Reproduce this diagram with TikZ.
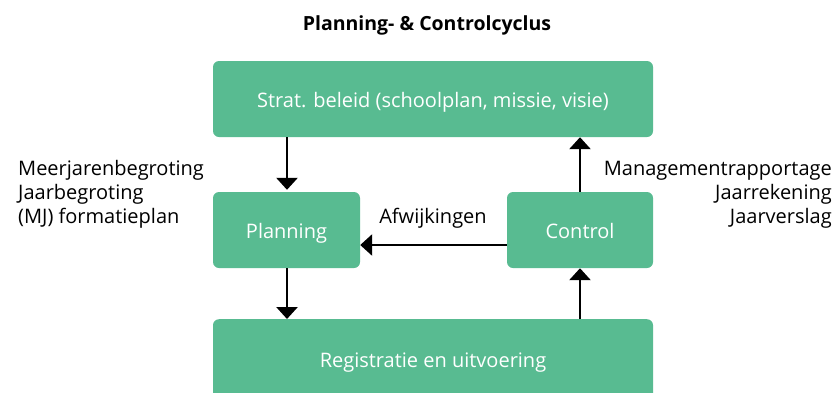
\documentclass[tikz,border=0pt]{standalone}
\usepackage{fontspec}
\setmainfont{Open Sans}
\usetikzlibrary{arrows.meta}
\definecolor{boxgreen}{HTML}{58BB91}
\tikzset{
  box/.style={fill=boxgreen, rounded corners=6pt, text=white, font=\fontsize{20}{24}\selectfont, inner sep=0pt, text height=16pt, text depth=0pt},
  conn/.style={line width=2.8pt, -{Triangle[width=21pt,length=12pt]}},
  lbl/.style={font=\fontsize{20}{24}\selectfont, inner sep=0pt},
}
\begin{document}
\begin{tikzpicture}[x=1pt,y=-1pt]
\useasboundingbox (0,0) rectangle (836,392);
\node[font=\bfseries\fontsize{19.5}{24}\selectfont, anchor=base, inner sep=0pt] (title) at (427,30) {Planning- \& Controlcyclus};
\node[box, minimum width=440pt, minimum height=76pt] (strat) at (433,99) {Strat. beleid (schoolplan, missie, visie)};
\node[box, minimum width=147pt, minimum height=76pt] (plan) at (286.5,230) {Planning};
\node[box, minimum width=146pt, minimum height=76pt] (ctrl) at (580,230) {Control};
\begin{scope}
\clip (0,0) rectangle (836,392);
\node[box, minimum width=440pt, minimum height=84pt, anchor=north] (reg) at (433,319) {};
\end{scope}
\node[box, fill=none, anchor=base, text height=, text depth=] (regtext) at (433,367) {Registratie en uitvoering};
\node[lbl, anchor=base west] (l1) at (18,175) {Meerjarenbegroting};
\node[lbl, anchor=base west] (l2) at (18,199) {Jaarbegroting};
\node[lbl, anchor=base west] (l3) at (18,223) {(MJ) formatieplan};
\node[lbl, anchor=base east] (r1) at (832,175) {Managementrapportage};
\node[lbl, anchor=base east] (r2) at (832,199) {Jaarrekening};
\node[lbl, anchor=base east] (r3) at (832,223) {Jaarverslag};
\node[lbl, anchor=base] (afw) at (433,223) {Afwijkingen};
\coordinate (pl) at (287,0);
\coordinate (cr) at (580,0);
\draw[conn, shorten >=2pt] (strat.south -| pl) -- (plan.north -| pl);
\draw[conn] (plan.south -| pl) -- (reg.north -| pl);
\draw[conn] (reg.north -| cr) -- (ctrl.south -| cr);
\draw[conn] (ctrl.north -| cr) -- (strat.south -| cr);
\draw[conn] (ctrl.west |- 0,245) -- (plan.east |- 0,245);
\end{tikzpicture}
\end{document}
